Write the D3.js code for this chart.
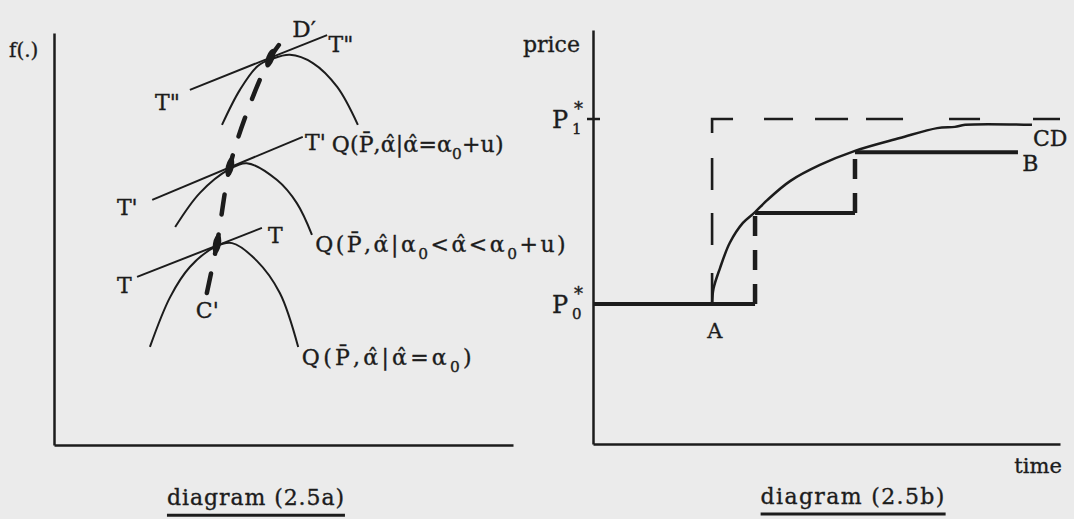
<!DOCTYPE html>
<html>
<head>
<meta charset="utf-8">
<script src="https://cdn.jsdelivr.net/npm/d3@7"></script>
<style>
  html, body { margin: 0; background: #ebebeb; }
  svg { display: block; }
  text { font-family: "DejaVu Serif", serif; fill: #1c1c1c; stroke: #1c1c1c; stroke-width: 0.35px; }
</style>
</head>
<body>
<svg id="chart" width="1074" height="519"></svg>
<script>
// ---------- diagram (2.5a): profit curves f(.) under three estimates of alpha ----------
// points are in panel units (0..10 on both axes)
const curveLow  = [[2.09,2.38],[2.53,3.59],[2.96,4.32],[3.51,4.81],[3.88,4.90],[4.42,4.47],[4.92,3.69],[5.32,2.38]];
const curveMid  = [[2.64,5.29],[3.18,6.12],[3.83,6.70],[4.20,6.84],[4.86,6.43],[5.29,5.87],[5.62,5.10]];
const curveHigh = [[3.66,7.77],[4.05,8.62],[4.44,9.20],[4.75,9.37],[5.14,9.47],[5.64,9.27],[6.17,8.69],[6.62,7.77]];
const tangentT   = [[1.81,4.08],[4.53,5.27]];
const tangentT1  = [[2.14,5.95],[5.42,7.48]];
const tangentT2  = [[2.96,8.62],[5.95,9.95]];
const tangencyPts = [[3.55,4.88],[3.83,6.75],[4.71,9.39]];
const locus = [[3.33,3.69],[3.55,4.88],[3.83,6.75],[4.20,8.06],[4.71,9.39],[5.10,10.0]];

// ---------- diagram (2.5b): price paths over time ----------
const P0 = 3.38, P1 = 7.85;
const tJump = 2.55;                       // moment of the shock (A)
const targetPath = [[tJump,P0],[tJump,P1],[10,P1]];
const stepLevels = [P0, 5.58, 7.05];      // path B
const stepTimes  = [0, 3.47, 5.61, 9.10];
const pathCD = [[2.55,3.38],[2.58,3.75],[2.72,4.25],[2.93,4.86],[3.21,5.34],[3.47,5.60],[3.73,5.89],
                [4.22,6.35],[4.86,6.74],[5.61,7.08],[6.57,7.39],[7.37,7.63],[7.75,7.66],[7.97,7.71],[9.40,7.71]];

const svg = d3.select("#chart");
const ink = "#1c1c1c";

// left panel scales
const xL = d3.scaleLinear().domain([0,10]).range([54,513]);
const yL = d3.scaleLinear().domain([0,10]).range([445,33]);
// right panel scales
const xR = d3.scaleLinear().domain([0,10]).range([593,1060]);
const yR = d3.scaleLinear().domain([0,10]).range([444,30]);

// rich text helper: parts are strings or {sub:"0"}; optional target width
function rich(g, x, y, parts, size, targetWidth, anchor) {
  const t = g.append("text").attr("x", x).attr("y", y)
    .style("font-size", size + "px").attr("text-anchor", anchor || "start");
  const shift = size * 0.3;
  let lowered = false, chars = 0;
  parts.forEach(p => {
    const sp = t.append("tspan");
    if (typeof p === "string") {
      sp.text(p);
      if (lowered) { sp.attr("dy", -shift); lowered = false; }
      chars += [...p].filter(c => !/[\u0300-\u036f]/.test(c)).length;
    } else {
      sp.text(p.sub).style("font-size", (size * 0.7) + "px").attr("dy", shift);
      lowered = true;
      chars += 1;
    }
  });
  if (targetWidth) {
    for (let k = 0; k < 2; k++) {
      const len = t.node().getComputedTextLength();
      const cur = parseFloat(t.attr("letter-spacing") || 0);
      t.attr("letter-spacing", cur + (targetWidth - len) / Math.max(1, chars));
    }
  }
  return t;
}

function caption(g, cx, y, label, width) {
  rich(g, cx, y, [label], 22, width, "middle");
  g.append("line").attr("x1", cx - width/2).attr("x2", cx + width/2)
    .attr("y1", y + 10).attr("y2", y + 10)
    .attr("stroke", ink).attr("stroke-width", 3);
}

// ===== left panel =====
const gL = svg.append("g");
gL.append("g").attr("transform", `translate(${xL(0)},0)`)
  .call(d3.axisLeft(yL).tickValues([]).tickSizeOuter(0))
  .call(a => a.select(".domain").attr("stroke", ink).attr("stroke-width", 2.5));
gL.append("g").attr("transform", `translate(0,${yL(0)})`)
  .call(d3.axisBottom(xL).tickValues([]).tickSizeOuter(0))
  .call(a => a.select(".domain").attr("stroke", ink).attr("stroke-width", 2.5));

const lineL = d3.line().x(d => xL(d[0])).y(d => yL(d[1])).curve(d3.curveCatmullRom.alpha(0.5));
[curveLow, curveMid, curveHigh].forEach(c => {
  gL.append("path").attr("d", lineL(c)).attr("fill", "none")
    .attr("stroke", ink).attr("stroke-width", 2);
});
const straightL = d3.line().x(d => xL(d[0])).y(d => yL(d[1]));
[tangentT, tangentT1, tangentT2].forEach(t => {
  gL.append("path").attr("d", straightL(t)).attr("fill", "none")
    .attr("stroke", ink).attr("stroke-width", 2);
});
// locus of tangency points C' .. D'
gL.append("path").attr("d", d3.line().x(d => xL(d[0])).y(d => yL(d[1])).curve(d3.curveCatmullRom)(locus))
  .attr("fill", "none").attr("stroke", ink).attr("stroke-width", 4.5)
  .attr("stroke-linecap", "round").attr("stroke-dasharray", "20,20");
tangencyPts.forEach((p, i) => {
  const b = locus[i + 2], c0 = locus[i];
  const ang = Math.atan2(yL(b[1]) - yL(c0[1]), xL(b[0]) - xL(c0[0])) * 180 / Math.PI;
  gL.append("ellipse").attr("cx", xL(p[0])).attr("cy", yL(p[1]))
    .attr("rx", 10).attr("ry", 4)
    .attr("transform", `rotate(${ang},${xL(p[0])},${yL(p[1])})`)
    .attr("fill", ink);
});

const labelsL = [
  { pos: [-0.98, 9.42], parts: ["f(.)"], size: 20 },
  { pos: [5.19, 9.90], parts: ["D\u2032"], size: 23 },
  { pos: [5.98, 9.54], parts: ["T\""], size: 22 },
  { pos: [2.20, 8.13], parts: ["T\""], size: 22 },
  { pos: [5.47, 7.16], parts: ["T'"], size: 22 },
  { pos: [1.37, 5.58], parts: ["T'"], size: 22 },
  { pos: [4.66, 4.90], parts: ["T"], size: 22 },
  { pos: [1.37, 3.69], parts: ["T"], size: 22 },
  { pos: [3.09, 3.08], parts: ["C'"], size: 22 },
  { pos: [6.05, 7.11], parts: ["Q(P\u0304,\u03b1\u0302|\u03b1\u0302=\u03b1", {sub:"0"}, "+u)"], size: 22, w: 172 },
  { pos: [5.69, 4.68], parts: ["Q(P\u0304,\u03b1\u0302|\u03b1", {sub:"0"}, "<\u03b1\u0302<\u03b1", {sub:"0"}, "+u)"], size: 22, w: 253 },
  { pos: [5.40, 1.94], parts: ["Q(P\u0304,\u03b1\u0302|\u03b1\u0302=\u03b1", {sub:"0"}, ")"], size: 22, w: 173 }
];
labelsL.forEach(l => rich(gL, xL(l.pos[0]), yL(l.pos[1]), l.parts, l.size, l.w));
caption(gL, xL(4.40), yL(-1.46), "diagram (2.5a)", 178);

// ===== right panel =====
const gR = svg.append("g");
gR.append("g").attr("transform", `translate(${xR(0)},0)`)
  .call(d3.axisLeft(yR).tickValues([]).tickSizeOuter(0))
  .call(a => a.select(".domain").attr("stroke", ink).attr("stroke-width", 2.5));
gR.append("g").attr("transform", `translate(0,${yR(0)})`)
  .call(d3.axisBottom(xR).tickValues([]).tickSizeOuter(0))
  .call(a => a.select(".domain").attr("stroke", ink).attr("stroke-width", 2.5));
// tick at P1*
gR.append("line").attr("x1", xR(0) - 6).attr("x2", xR(0) + 7)
  .attr("y1", yR(P1)).attr("y2", yR(P1)).attr("stroke", ink).attr("stroke-width", 2.5);

const straightR = d3.line().x(d => xR(d[0])).y(d => yR(d[1]));
// new equilibrium price path (dashed)
gR.append("path").attr("d", straightR(targetPath)).attr("fill", "none")
  .attr("stroke", ink).attr("stroke-width", 2.6)
  .attr("stroke-dasharray", "31,28,32,23,32,25,35,31,29,22,33,18,37,46,31,53,30,40");

// stepwise path B
for (let i = 0; i < stepLevels.length; i++) {
  gR.append("path").attr("d", straightR([[stepTimes[i], stepLevels[i]], [stepTimes[i+1], stepLevels[i]]]))
    .attr("fill", "none").attr("stroke", ink).attr("stroke-width", 4);
  if (i < stepLevels.length - 1) {
    gR.append("path").attr("d", straightR([[stepTimes[i+1], stepLevels[i]], [stepTimes[i+1], stepLevels[i+1]]]))
      .attr("fill", "none").attr("stroke", ink).attr("stroke-width", 4.5)
      .attr("stroke-dasharray", "20,14");
  }
}
// smooth adjustment path CD
gR.append("path").attr("d", d3.line().x(d => xR(d[0])).y(d => yR(d[1])).curve(d3.curveCatmullRom.alpha(0.5))(pathCD))
  .attr("fill", "none").attr("stroke", ink).attr("stroke-width", 2.5);

// labels
rich(gR, xR(-0.28), yR(9.47), ["price"], 22, null, "end");
[[P1, "1"], [P0, "0"]].forEach(([v, s]) => {
  const y = yR(v) + 9;
  rich(gR, xR(-0.88), y, ["P"], 24);
  rich(gR, xR(-0.88) + 22, y - 13, ["*"], 18);
  rich(gR, xR(-0.88) + 20, y + 6, [s], 15);
});
rich(gR, xR(2.61), yR(2.56), ["A"], 21, null, "middle");
rich(gR, xR(9.19), yR(6.59), ["B"], 22);
rich(gR, xR(9.42), yR(7.20), ["CD"], 22);
rich(gR, xR(10.04), yR(-0.70), ["time"], 21, null, "end");
caption(gR, xR(5.57), yR(-1.45), "diagram (2.5b)", 185);
</script>
</body>
</html>
